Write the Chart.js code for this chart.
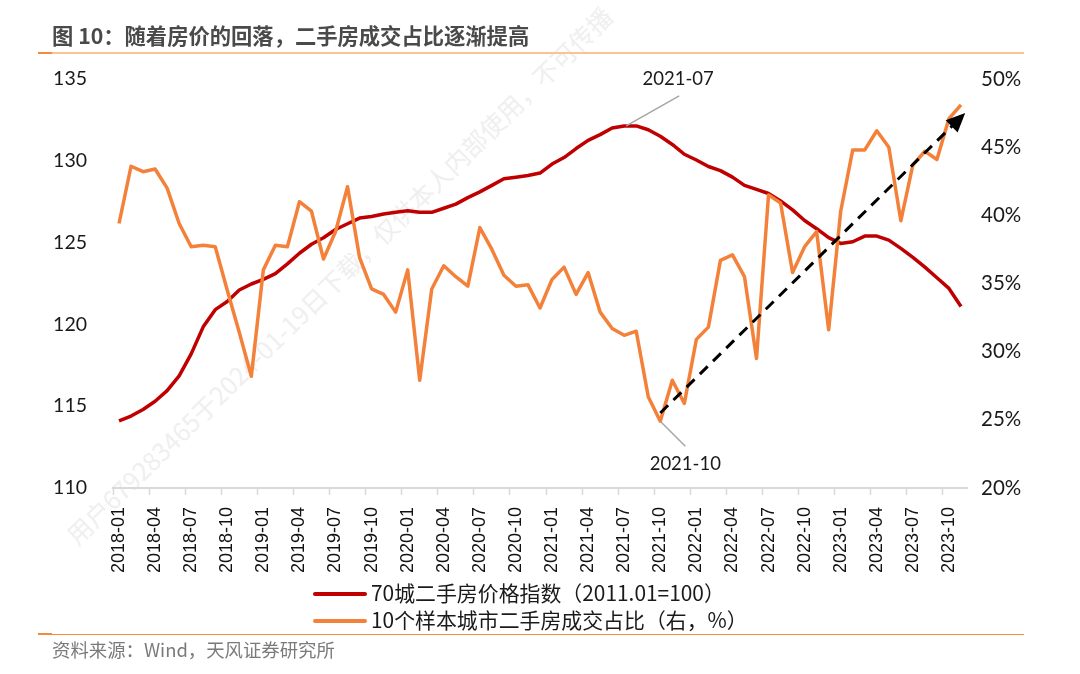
<!DOCTYPE html>
<html>
<head>
<meta charset="utf-8">
<style>
  body { margin: 0; background: #fff; }
  #page { position: relative; width: 1080px; height: 674px; overflow: hidden; font-family: "Noto Sans CJK SC", sans-serif; }
  #demo { position: absolute; left: 0; top: 0; }
  .title { position: absolute; left: 52px; top: 20px; font-size: 21.3px; line-height: 30px; font-weight: 700; color: #4a4a4a; white-space: nowrap; }
  .source { position: absolute; left: 52px; top: 636px; font-size: 18.4px; line-height: 26px; color: #7a7a7a; white-space: nowrap; }
  .rule { position: absolute; left: 38px; width: 986px; }
  .rule i { position: absolute; left: 0; width: 14px; }
  .mark { position: absolute; left: 70px; top: 524px; font-size: 25px; line-height: 30px; color: #efefef; white-space: nowrap; transform-origin: 0 50%; transform: rotate(-44.5deg); }
  .legend { position: absolute; left: 313px; height: 27px; font-size: 20.9px; line-height: 27px; color: #1a1a1a; white-space: nowrap; }
  .legend b { display: inline-block; width: 54px; height: 4px; margin-right: 4px; vertical-align: middle; border-radius: 2px; position: relative; top: -1px; }
</style>
</head>
<body>
<div id="page">
  <div class="mark">用户679283465于2024-01-19日下载，仅供本人内部使用，不可传播</div>
  <canvas id="demo" width="1080" height="674"></canvas>
  <div class="title">图 10：随着房价的回落，二手房成交占比逐渐提高</div>
  <div class="rule" style="top:52px;height:2px;background:#fbc393"><i style="top:0;height:2px;background:#f58a3c"></i></div>
  <div class="legend" style="top:579px"><b style="background:#c00000"></b><span id="name1"></span></div>
  <div class="legend" style="top:606px"><b style="background:#f4813a"></b><span id="name2"></span></div>
  <div class="rule" style="top:634px;height:1px;background:#f58a3c"><i style="top:-1px;height:2px;background:#f58a3c"></i></div>
  <div class="source">资料来源：Wind，天风证券研究所</div>
</div>
<script src="https://cdn.jsdelivr.net/npm/chart.js@4/dist/chart.umd.min.js"></script>
<script>
const years = ["2018", "2019", "2020", "2021", "2022", "2023"];
const months = ["01", "02", "03", "04", "05", "06", "07", "08", "09", "10", "11", "12"];
const categories = years.flatMap((y) => months.map((m) => y + "-" + m)).slice(0, 71);

const priceName = "70城二手房价格指数（2011.01=100）";
const shareName = "10个样本城市二手房成交占比（右，%）";

const priceIndex = [
  114.1, 114.4, 114.8, 115.3, 115.95, 116.85, 118.2, 119.85, 120.9, 121.4, 122.1, 122.47,
  122.75, 123.1, 123.7, 124.35, 124.9, 125.3, 125.8, 126.15, 126.5, 126.6, 126.75, 126.85,
  126.95, 126.85, 126.85, 127.1, 127.35, 127.75, 128.1, 128.5, 128.9, 129.0, 129.1, 129.25,
  129.8, 130.2, 130.75, 131.25, 131.6, 132.0, 132.13, 132.13, 131.9, 131.5, 131.0, 130.4,
  130.05, 129.65, 129.4, 129.0, 128.5, 128.25, 128.0, 127.55, 127.0, 126.35, 125.85, 125.3,
  124.95, 125.05, 125.4, 125.4, 125.15, 124.65, 124.1, 123.5, 122.85, 122.2, 121.1,
];
const sharePct = [
  39.4, 43.6, 43.2, 43.4, 42.0, 39.4, 37.7, 37.8, 37.7, 34.5, 31.4, 28.2,
  36.0, 37.8, 37.7, 41.0, 40.3, 36.8, 38.8, 42.1, 36.9, 34.6, 34.2, 32.9,
  36.0, 27.9, 34.6, 36.3, 35.5, 34.8, 39.1, 37.5, 35.6, 34.8, 34.9, 33.2,
  35.3, 36.2, 34.2, 35.8, 32.9, 31.7, 31.2, 31.5, 26.7, 24.9, 27.9, 26.2,
  30.9, 31.8, 36.7, 37.1, 35.5, 29.5, 41.5, 40.9, 35.8, 37.7, 38.8, 31.6,
  40.3, 44.8, 44.8, 46.2, 45.0, 39.6, 43.7, 44.7, 44.1, 47.1, 48.1,
];

// trend arrow, in category index / right axis values
const arrowFrom = [45, 25.5];
const arrowTo = [70.35, 47.5];

const peakIndex = categories.indexOf("2021-07");
const troughIndex = categories.indexOf("2021-10");

document.getElementById("name1").textContent = priceName;
document.getElementById("name2").textContent = shareName;

const notes = {
  id: "notes",
  afterDatasetsDraw(chart) {
    const { ctx, scales } = chart;
    const x = scales.x, left = scales.left, right = scales.right;
    ctx.save();

    // leader lines
    ctx.strokeStyle = "#a6a6a6";
    ctx.lineWidth = 1.5;
    const px = x.getPixelForValue(peakIndex);
    const py = left.getPixelForValue(priceIndex[peakIndex]);
    const tx = x.getPixelForValue(troughIndex);
    const ty = right.getPixelForValue(sharePct[troughIndex]);
    ctx.beginPath();
    ctx.moveTo(px + 2, py);
    ctx.lineTo(px + 55, py - 30);
    ctx.moveTo(tx, ty);
    ctx.lineTo(tx + 25, ty + 25);
    ctx.stroke();

    ctx.fillStyle = "#1a1a1a";
    ctx.font = "18.5px Lato, sans-serif";
    ctx.textAlign = "center";
    ctx.textBaseline = "middle";
    ctx.fillText(categories[peakIndex], px + 54, 79);
    ctx.fillText(categories[troughIndex], tx + 25, 464);

    // dashed trend arrow
    const x0 = x.getPixelForValue(arrowFrom[0]);
    const y0 = right.getPixelForValue(arrowFrom[1]);
    const x1 = x.getPixelForValue(arrowTo[0]);
    const y1 = right.getPixelForValue(arrowTo[1]);
    const a = Math.atan2(y1 - y0, x1 - x0);
    ctx.strokeStyle = "#000";
    ctx.lineWidth = 3;
    ctx.setLineDash([11, 7.5]);
    ctx.beginPath();
    ctx.moveTo(x0, y0);
    ctx.lineTo(x1 - 14 * Math.cos(a), y1 - 14 * Math.sin(a));
    ctx.stroke();
    ctx.setLineDash([]);
    ctx.translate(x1, y1);
    ctx.rotate(a);
    ctx.fillStyle = "#000";
    ctx.beginPath();
    ctx.moveTo(0, 0);
    ctx.lineTo(-19, -8.5);
    ctx.lineTo(-19, 8.5);
    ctx.closePath();
    ctx.fill();
    ctx.restore();
  },
};

new Chart(document.getElementById("demo").getContext("2d"), {
  type: "line",
  data: {
    labels: categories,
    datasets: [
      {
        label: priceName,
        data: priceIndex,
        yAxisID: "left",
        borderColor: "#c00000",
        backgroundColor: "#c00000",
        borderWidth: 3.5,
        borderJoinStyle: "round",
        pointRadius: 0,
        order: 2,
      },
      {
        label: shareName,
        data: sharePct,
        yAxisID: "right",
        borderColor: "#f4813a",
        backgroundColor: "#f4813a",
        borderWidth: 3.5,
        borderJoinStyle: "round",
        pointRadius: 0,
        order: 1,
      },
    ],
  },
  plugins: [notes],
  options: {
    responsive: false,
    animation: false,
    layout: { padding: { top: 79 } },
    plugins: { legend: { display: false }, tooltip: { enabled: false } },
    scales: {
      x: {
        type: "category",
        offset: true,
        afterFit(axis) { axis.height = 186; },
        border: { color: "#d9d9d9", width: 2 },
        grid: {
          offset: true,
          drawOnChartArea: false,
          tickLength: 7,
          tickWidth: 1.5,
          tickColor: (c) => (c.index % 3 === 0 ? "#d9d9d9" : "rgba(0,0,0,0)"),
        },
        ticks: {
          autoSkip: false,
          minRotation: 90,
          maxRotation: 90,
          padding: 12,
          color: "#111",
          font: { family: "Liberation Sans", size: 18 },
          callback: (v, i) => (i % 3 === 0 ? categories[i] : ""),
        },
      },
      left: {
        position: "left",
        min: 110,
        max: 135,
        afterFit(axis) { axis.width = 113; },
        border: { display: false },
        grid: { display: false },
        ticks: { stepSize: 5, padding: 18, color: "#1a1a1a", font: { family: "Lato", size: 19.5 } },
      },
      right: {
        position: "right",
        min: 20,
        max: 50,
        afterFit(axis) { axis.width = 113; },
        border: { display: false },
        grid: { display: false },
        ticks: {
          stepSize: 5,
          padding: 6,
          color: "#1a1a1a",
          font: { family: "Lato", size: 20.5 },
          callback: (v) => v + "%",
        },
      },
    },
  },
});
</script>
</body>
</html>
